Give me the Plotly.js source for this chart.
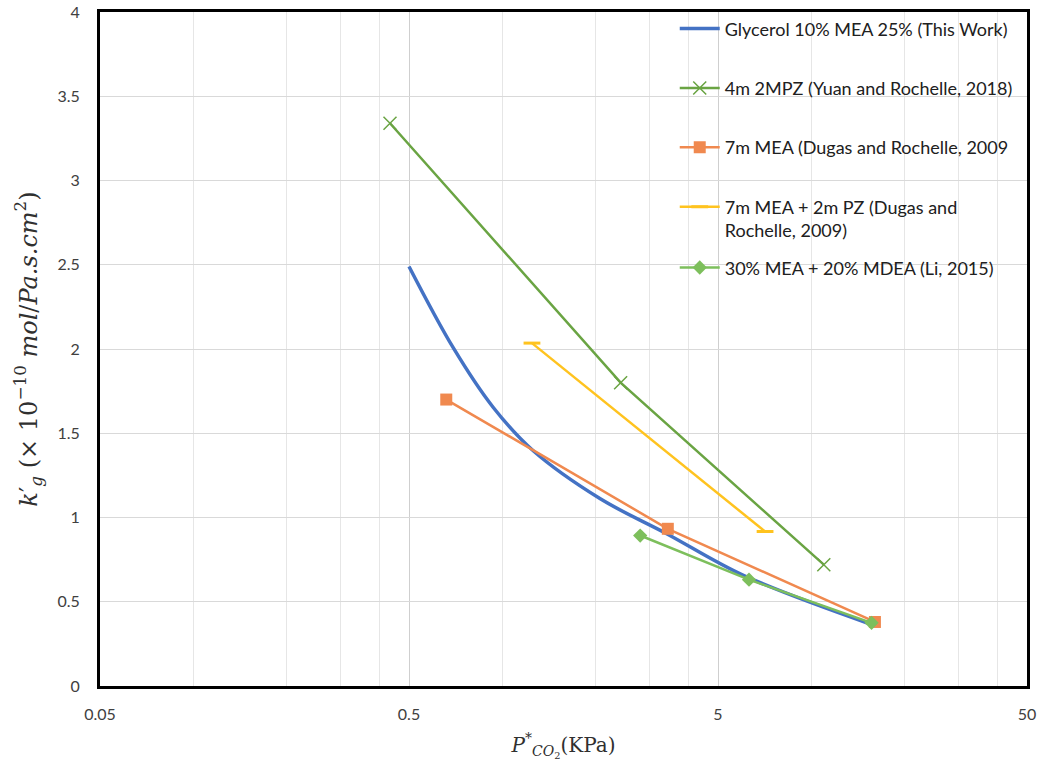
<!DOCTYPE html>
<html>
<head>
<meta charset="utf-8">
<script src="https://cdn.plot.ly/plotly-3.0.1.min.js"></script>
<style>html,body{margin:0;padding:0;background:#fff;}#chart{width:1042px;height:769px;}</style>
</head>
<body>
<div id="chart"></div>
<script>
// Glycerol 10% MEA 25% (This Work) - smoothed curve
const glyX = [0.5, 0.695, 0.937, 1.262, 2.08, 3.41, 6.04, 15.7];
const glyY = [2.49, 2.008, 1.653, 1.396, 1.111, 0.904, 0.657, 0.365];
// 4m 2MPZ (Yuan and Rochelle, 2018)
const mpzX = [0.434, 2.42, 11.0];
const mpzY = [3.34, 1.80, 0.72];
// 7m MEA (Dugas and Rochelle, 2009)
const meaX = [0.66, 3.44, 16.1];
const meaY = [1.70, 0.933, 0.38];
// 7m MEA + 2m PZ (Dugas and Rochelle, 2009)
const pzX = [1.25, 7.1];
const pzY = [2.035, 0.917];
// 30% MEA + 20% MDEA (Li, 2015)
const mdeaX = [2.80, 6.30, 15.7];
const mdeaY = [0.893, 0.631, 0.375];

const xTickVals = [0.05, 0.5, 5, 50];
const xTickText = ['0.05', '0.5', '5', '50'];
const xMinorVals = [0.1, 0.2, 0.3, 0.4, 1, 2, 3, 4, 10, 20, 30, 40];
const yTickVals = [0, 0.5, 1, 1.5, 2, 2.5, 3, 3.5, 4];
const yTickText = ['0', '0.5', '1', '1.5', '2', '2.5', '3', '3.5', '4'];

const names = [
  'Glycerol 10% MEA 25% (This Work)',
  '4m 2MPZ (Yuan and Rochelle, 2018)',
  '7m MEA (Dugas and Rochelle, 2009',
  '7m MEA + 2m PZ (Dugas and<br>Rochelle, 2009)',
  '30% MEA + 20% MDEA (Li, 2015)'
];

const traces = [
  {x: glyX, y: glyY, name: names[0], mode: 'lines', legendgroup: 'a',
   line: {color: '#4472C4', width: 3.5, shape: 'spline', smoothing: 1}},
  {x: mpzX, y: mpzY, name: names[1], mode: 'lines+markers', legendgroup: 'b',
   line: {color: '#6AA443', width: 2.5},
   marker: {symbol: 'x-thin-open', size: 13, color: '#6AA443', line: {color: '#6AA443', width: 1.5}}},
  {x: meaX, y: meaY, name: names[2], mode: 'lines+markers', legendgroup: 'c',
   line: {color: '#F0894F', width: 2.5},
   marker: {symbol: 'square', size: 12, color: '#F0894F'}},
  {x: pzX, y: pzY, name: names[3], mode: 'lines+markers', legendgroup: 'd',
   line: {color: '#FFC31F', width: 2.5},
   marker: {symbol: 'line-ew', size: 12, color: '#FFC31F', line: {color: '#FFC31F', width: 3}}},
  {x: mdeaX, y: mdeaY, name: names[4], mode: 'lines+markers', legendgroup: 'e', legend: 'legend2',
   line: {color: '#7DBF5C', width: 2.5},
   marker: {symbol: 'diamond', size: 11, color: '#7DBF5C'}}
];

const legendFont = {family: 'Lato, "Open Sans", sans-serif', size: 18, color: '#202020'};

const layout = {
  width: 1042, height: 769,
  margin: {l: 100, r: 15, t: 11, b: 83},
  paper_bgcolor: '#ffffff', plot_bgcolor: '#ffffff',
  font: {family: 'Lato, "Open Sans", sans-serif', color: '#404040', size: 16},
  showlegend: true,
  legend: {
    x: 0.62, y: 1.001, xanchor: 'left', yanchor: 'top',
    bgcolor: 'rgba(0,0,0,0)', borderwidth: 0, valign: 'top',
    font: legendFont,
    traceorder: 'grouped', tracegroupgap: 33, itemwidth: 40
  },
  legend2: {
    x: 0.62, y: 0.647, xanchor: 'left', yanchor: 'top',
    bgcolor: 'rgba(0,0,0,0)', borderwidth: 0,
    font: legendFont, itemwidth: 40
  },
  xaxis: {
    type: 'log',
    range: [Math.log10(0.05), Math.log10(50)],
    tickmode: 'array', tickvals: xTickVals, ticktext: xTickText,
    ticks: '', showgrid: true, gridcolor: '#cfcfcf', gridwidth: 1,
    minor: {tickmode: 'array', tickvals: xMinorVals, showgrid: true, gridcolor: '#e6e6e6', gridwidth: 1, ticks: ''},
    showline: true, linecolor: '#000000', linewidth: 3, mirror: true,
    zeroline: false,
    tickfont: {size: 16, color: '#404040'},
    ticklabelstandoff: 12,
    title: {text: '<i>P</i><sup>*</sup><sub><i>CO</i><sub>2</sub></sub>(KPa)', font: {family: '"DejaVu Serif", serif', size: 20, color: '#303030'}, standoff: 16}
  },
  yaxis: {
    range: [0, 4],
    tickmode: 'array', tickvals: yTickVals, ticktext: yTickText,
    ticks: '', showgrid: true, gridcolor: '#d9d9d9', gridwidth: 1,
    showline: true, linecolor: '#000000', linewidth: 3, mirror: true,
    zeroline: false,
    tickfont: {size: 16, color: '#404040'},
    ticklabelstandoff: 14,
    title: {text: "<i>k</i>′<sub><i>g</i></sub> (× 10<sup>−10</sup> <i>mol</i>/<i>Pa.s.cm</i><sup>2</sup>)", font: {family: '"DejaVu Serif", serif', size: 24, color: '#303030'}, standoff: 14}
  }
};

Plotly.newPlot('chart', traces, layout, {displayModeBar: false, staticPlot: true});
</script>
</body>
</html>
